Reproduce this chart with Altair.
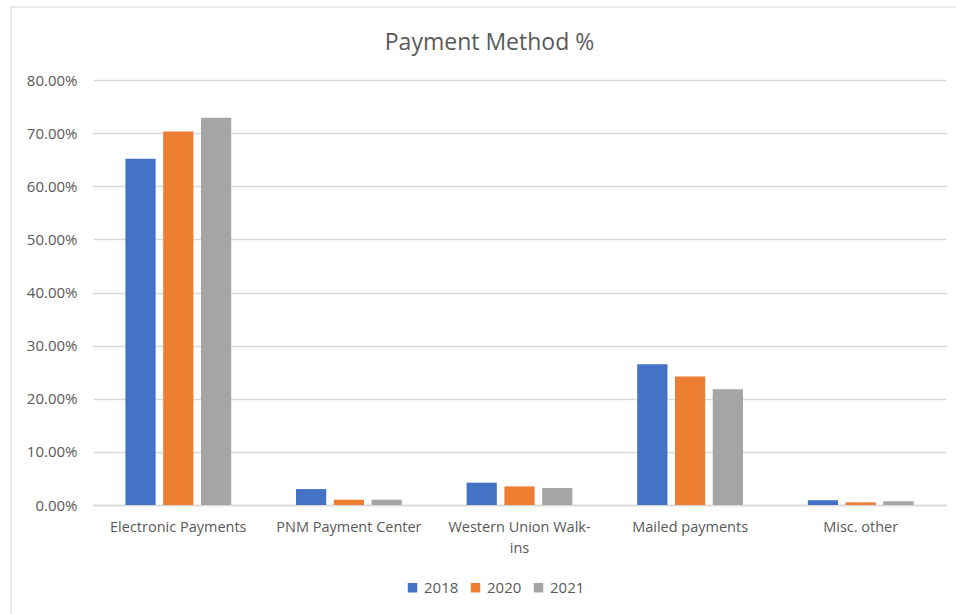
import altair as alt
import pandas as pd

categories = ["Electronic Payments", "PNM Payment Center", "Western Union Walk-ins",
              "Mailed payments", "Misc. other"]
years = ["2018", "2020", "2021"]
v2018 = [0.652, 0.030, 0.042, 0.265, 0.009]
v2020 = [0.703, 0.010, 0.035, 0.242, 0.005]
v2021 = [0.729, 0.010, 0.032, 0.218, 0.007]
colors = ["#4472C4", "#ED7D31", "#A5A5A5"]

rows = []
for y, vals in zip(years, [v2018, v2020, v2021]):
    for c, v in zip(categories, vals):
        rows.append({"Category": c, "Year": y, "Value": v})
df = pd.DataFrame(rows)

FONT = "Open Sans"
GREY = "#595959"

W, H = 853, 425

bars = alt.Chart(df).mark_bar().encode(
    x=alt.X("Category:N", sort=categories, title=None,
            scale=alt.Scale(paddingInner=0.38, paddingOuter=0.19),
            axis=alt.Axis(labelAngle=0, labelFont=FONT, labelFontSize=14.5,
                          labelColor=GREY, labelPadding=15, ticks=False,
                          labelLineHeight=21,
                          domain=True, domainColor="#d9d9d9", domainWidth=1.5,
                          labelLimit=200,
                          labelExpr="datum.value == 'Western Union Walk-ins' ? ['Western Union Walk-', 'ins'] : datum.value")),
    xOffset=alt.XOffset("Year:N", sort=years,
                        scale=alt.Scale(paddingInner=0.2, paddingOuter=0)),
    y=alt.Y("Value:Q", title=None,
            scale=alt.Scale(domain=[0, 0.8], nice=False),
            axis=alt.Axis(format=".2%", values=[0, 0.1, 0.2, 0.3, 0.4, 0.5, 0.6, 0.7, 0.8],
                          labelFont=FONT, labelFontSize=15, labelColor=GREY,
                          labelPadding=16, ticks=False, domain=False,
                          grid=True, gridColor="#d9d9d9", gridWidth=1.5)),
    color=alt.Color("Year:N", sort=years, title=None,
                    scale=alt.Scale(domain=years, range=colors),
                    legend=alt.Legend(orient="none", direction="horizontal",
                                      legendX=312, legendY=500,
                                      symbolType="square", symbolSize=90,
                                      symbolStrokeWidth=0,
                                      labelFont=FONT, labelFontSize=15,
                                      labelColor=GREY, columnPadding=9,
                                      labelOffset=4)),
)

frame = alt.Chart(pd.DataFrame({"a": [0]})).mark_rect(
    fillOpacity=0, stroke="#d9d9d9", strokeWidth=1.2, clip=False
).encode(
    x=alt.value(-82), x2=alt.value(W + 20),
    y=alt.value(-73), y2=alt.value(H + 120),
)

chart = alt.layer(frame, bars).properties(
    width=W, height=H,
    title=alt.Title("Payment Method %", font=FONT, fontSize=23, fontWeight="normal",
                    color=GREY, anchor="middle", dx=-30, offset=-49),
    autosize=alt.AutoSizeParams(type="none"),
    padding={"left": 93, "top": 80, "right": 10, "bottom": 109},
    background="white",
).configure_view(stroke=None)

chart.save("out.html", embed_options={"renderer": "svg", "actions": False})
